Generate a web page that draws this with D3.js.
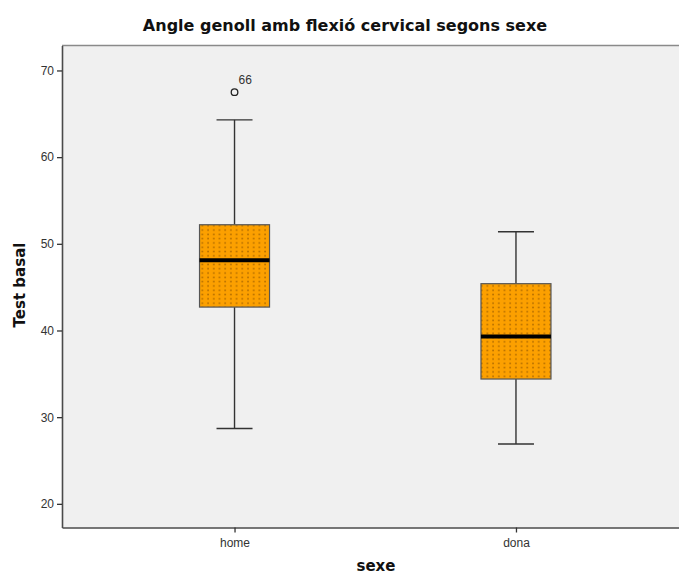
<!DOCTYPE html>
<html>
<head>
<meta charset="utf-8">
<script src="https://cdn.jsdelivr.net/npm/d3@7/dist/d3.min.js"></script>
<style>
  html, body { margin: 0; padding: 0; background: #fff; }
  svg { display: block; font-family: "Liberation Sans", Arial, sans-serif; }
  .heading { font-family: "DejaVu Sans", "Liberation Sans", sans-serif; font-weight: bold; fill: #111; }
</style>
</head>
<body>
<svg id="chart" width="679" height="575"></svg>
<script>
// Categories and box-plot summaries (Test basal by sexe)
const categories = ["home", "dona"];
const whiskerLow  = [28.7, 26.9];
const quartile1   = [42.7, 34.4];
const medians     = [48.1, 39.3];
const quartile3   = [52.2, 45.4];
const whiskerHigh = [64.3, 51.4];
const outlierCategory = ["home"];
const outlierValues   = [67.5];
const outlierLabels   = ["66"];
const yTicks = [20, 30, 40, 50, 60, 70];

const svg = d3.select("#chart");
const plotLeft = 62, plotTop = 45.5, plotRight = 688.5, plotBottom = 527.5;

const y = d3.scaleLinear().domain([17.27, 72.88]).range([plotBottom, plotTop]);
const x = d3.scalePoint().domain(categories).range([plotLeft, plotRight]).padding(0.613);

// dotted fill used by the boxes
const defs = svg.append("defs");
const pat = defs.append("pattern")
  .attr("id", "dots").attr("patternUnits", "userSpaceOnUse")
  .attr("width", 5.7).attr("height", 4.3);
pat.append("rect").attr("width", 5.7).attr("height", 4.3).attr("fill", "#fca000");
pat.append("rect").attr("x", 2).attr("y", 1.4).attr("width", 1.8).attr("height", 1.5)
  .attr("fill", "#b87000");

// plot background
svg.append("rect")
  .attr("x", plotLeft).attr("y", plotTop)
  .attr("width", plotRight - plotLeft).attr("height", plotBottom - plotTop)
  .attr("fill", "#f0f0f0");
svg.append("line")
  .attr("x1", plotLeft).attr("x2", plotRight).attr("y1", plotTop).attr("y2", plotTop)
  .attr("stroke", "#8a8a8a").attr("stroke-width", 1.5);

// title
svg.append("text").attr("class", "heading")
  .attr("x", 345).attr("y", 31)
  .attr("text-anchor", "middle")
  .attr("font-size", 16)
  .text("Angle genoll amb flexió cervical segons sexe");

// y axis
const yAxis = svg.append("g")
  .attr("transform", `translate(${plotLeft},0)`)
  .call(d3.axisLeft(y).tickValues(yTicks).tickSize(5).tickSizeOuter(0).tickPadding(3));
yAxis.select(".domain").attr("stroke", "#4a4a4a").attr("stroke-width", 1.6);
yAxis.selectAll(".tick line").attr("stroke", "#333").attr("stroke-width", 1.3);
yAxis.selectAll(".tick text").attr("font-size", 12).attr("fill", "#333")
  .attr("font-family", "Liberation Sans, Arial, sans-serif");

// x axis
const xAxis = svg.append("g")
  .attr("transform", `translate(0,${plotBottom})`)
  .call(d3.axisBottom(x).tickSize(5).tickSizeOuter(0).tickPadding(6));
xAxis.select(".domain").attr("stroke", "#4a4a4a").attr("stroke-width", 1.6);
xAxis.selectAll(".tick line").attr("stroke", "#333").attr("stroke-width", 1.3);
xAxis.selectAll(".tick text").attr("font-size", 12).attr("fill", "#333")
  .attr("font-family", "Liberation Sans, Arial, sans-serif");

// axis titles
svg.append("text").attr("class", "heading")
  .attr("transform", `translate(25,285) rotate(-90)`)
  .attr("text-anchor", "middle")
  .attr("font-size", 15)
  .text("Test basal");
svg.append("text").attr("class", "heading")
  .attr("x", 376).attr("y", 571)
  .attr("text-anchor", "middle")
  .attr("font-size", 15)
  .text("sexe");

// boxes
const boxW = 70, capW = 36;
const g = svg.append("g");
categories.forEach((c, i) => {
  const cx = x(c);
  // whiskers
  g.append("line").attr("x1", cx).attr("x2", cx)
    .attr("y1", y(whiskerHigh[i])).attr("y2", y(quartile3[i]))
    .attr("stroke", "#333").attr("stroke-width", 1.4);
  g.append("line").attr("x1", cx).attr("x2", cx)
    .attr("y1", y(quartile1[i])).attr("y2", y(whiskerLow[i]))
    .attr("stroke", "#333").attr("stroke-width", 1.4);
  [whiskerHigh[i], whiskerLow[i]].forEach(v => {
    g.append("line").attr("x1", cx - capW / 2).attr("x2", cx + capW / 2)
      .attr("y1", y(v)).attr("y2", y(v))
      .attr("stroke", "#333").attr("stroke-width", 1.4);
  });
  // box
  g.append("rect")
    .attr("x", cx - boxW / 2).attr("y", y(quartile3[i]))
    .attr("width", boxW).attr("height", y(quartile1[i]) - y(quartile3[i]))
    .attr("fill", "url(#dots)").attr("stroke", "#555").attr("stroke-width", 1.2);
  // median
  g.append("line").attr("x1", cx - boxW / 2).attr("x2", cx + boxW / 2)
    .attr("y1", y(medians[i])).attr("y2", y(medians[i]))
    .attr("stroke", "#000").attr("stroke-width", 4);
});

// outliers
outlierValues.forEach((v, i) => {
  const cx = x(outlierCategory[i]);
  g.append("circle").attr("cx", cx).attr("cy", y(v)).attr("r", 3.3)
    .attr("fill", "none").attr("stroke", "#222").attr("stroke-width", 1.3);
  g.append("text").attr("x", cx + 4).attr("y", y(v) - 8)
    .attr("font-size", 12).attr("fill", "#333")
    .text(outlierLabels[i]);
});
</script>
</body>
</html>
